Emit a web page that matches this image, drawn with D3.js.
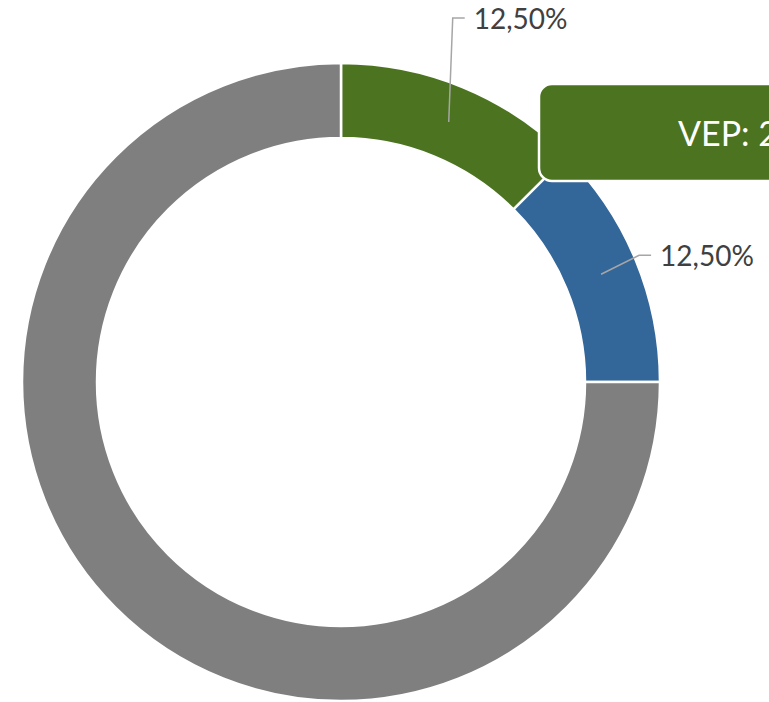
<!DOCTYPE html>
<html>
<head>
<meta charset="utf-8">
<script src="https://cdn.jsdelivr.net/npm/d3@7"></script>
<style>
  body { margin: 0; background: #fff; }
  svg { display: block; }
</style>
</head>
<body>
<svg class="mysvg"></svg>
<script>
var categories = ["VEP", "Categoria 2", "Categoria 3"];
var values = [12.5, 12.5, 75];
var colors = ["#4b7320", "#336699", "#7f7f7f"];
var showLabel = [true, true, false];
var calloutText = "VEP: 2";

var svgWidth = 769,
    svgHeight = 702,
    cx = 341,
    cy = 382,
    outerR = 319,
    innerR = 244;

var svg = d3.select(".mysvg")
    .attr("width", svgWidth)
    .attr("height", svgHeight);

var data = categories.map(function(c, i) {
    return { name: c, value: values[i], color: colors[i], label: showLabel[i] };
});

var g = svg.append("g")
    .attr("transform", "translate(" + cx + "," + cy + ")");

var pie = d3.pie().sort(null).value(function(d) { return d.value; });

var arc = d3.arc()
    .outerRadius(outerR)
    .innerRadius(innerR);

var arcs = pie(data);

g.selectAll("path.slice")
    .data(arcs)
    .enter()
    .append("path")
    .attr("class", "slice")
    .attr("d", arc)
    .attr("fill", function(d) { return d.data.color; })
    .attr("stroke", "#fff")
    .attr("stroke-width", 2.5);

// leader line elbows, relative to each slice centroid
var elbowOffset = [[4, -104], [38, -19]];
var fmt = function(v) { return d3.format(".2f")(v).replace(".", ",") + "%"; };
var total = d3.sum(values);

arcs.forEach(function(d, i) {
    if (!d.data.label) return;
    var c = arc.centroid(d);
    var e = [c[0] + elbowOffset[i][0], c[1] + elbowOffset[i][1]];
    var end = [e[0] + 12, e[1]];
    g.append("polyline")
        .attr("points", [c, e, end].map(function(p) { return p.join(","); }).join(" "))
        .attr("fill", "none")
        .attr("stroke", "#a6a6a6")
        .attr("stroke-width", 1.5);
    g.append("text")
        .attr("x", end[0] + 9)
        .attr("y", end[1] + 11)
        .attr("font-family", "Lato, 'Open Sans', sans-serif")
        .attr("font-size", 28)
        .attr("fill", "#404040")
        .text(fmt(d.data.value / total * 100));
});

// callout box for the first slice (runs off the right edge, as in the original)
var box = g.append("g").attr("transform", "translate(198,-298)");
box.append("rect")
    .attr("width", 320)
    .attr("height", 97)
    .attr("rx", 13)
    .attr("fill", colors[0])
    .attr("stroke", "#fff")
    .attr("stroke-width", 2.5);
box.append("text")
    .attr("x", 139)
    .attr("y", 62)
    .attr("font-family", "Lato, 'Open Sans', sans-serif")
    .attr("font-size", 34)
    .attr("fill", "#fff")
    .text(calloutText);
</script>
</body>
</html>
